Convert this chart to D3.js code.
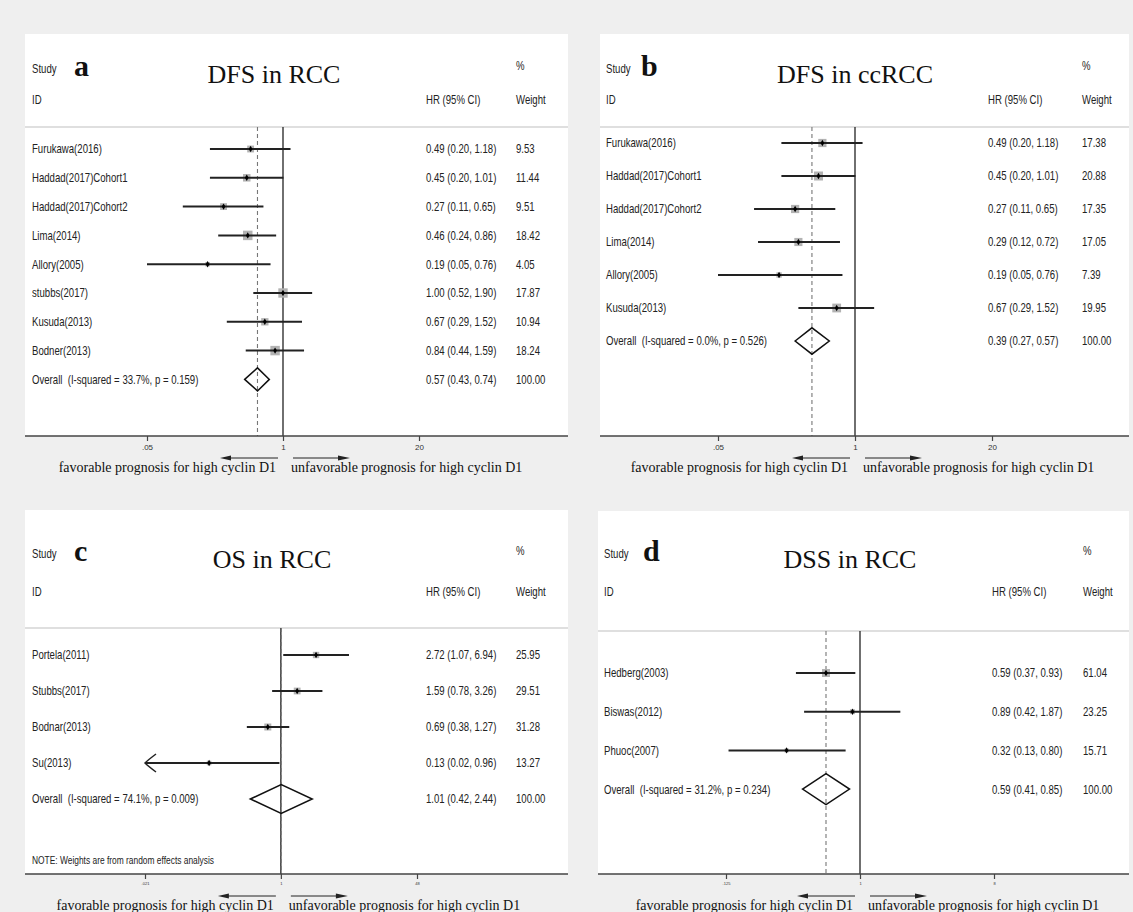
<!DOCTYPE html>
<html>
<head>
<meta charset="utf-8">
<script src="https://cdn.jsdelivr.net/npm/d3@7"></script>
<style>
  body { margin: 0; background: #efefef; }
  .narrow { font-family: "Liberation Sans", Arial, sans-serif; fill: #222; }
  .serif { font-family: "Liberation Serif", "Times New Roman", serif; fill: #111; }
</style>
</head>
<body>
<svg id="fig" width="1133" height="912"></svg>
<script>
// ---- panel a : DFS in RCC
const studiesA = ['Furukawa(2016)', 'Haddad(2017)Cohort1', 'Haddad(2017)Cohort2', 'Lima(2014)',
  'Allory(2005)', 'stubbs(2017)', 'Kusuda(2013)', 'Bodner(2013)'];
const hrA = [0.49, 0.45, 0.27, 0.46, 0.19, 1.00, 0.67, 0.84];
const lowA = [0.20, 0.20, 0.11, 0.24, 0.05, 0.52, 0.29, 0.44];
const highA = [1.18, 1.01, 0.65, 0.86, 0.76, 1.90, 1.52, 1.59];
const weightA = [9.53, 11.44, 9.51, 18.42, 4.05, 17.87, 10.94, 18.24];
const overallA = [0.57, 0.43, 0.74];
const hetA = 'I-squared = 33.7%, p = 0.159';
const ticksA = [0.05, 1, 20];
const tickLabelsA = ['.05', '1', '20'];

// ---- panel b : DFS in ccRCC
const studiesB = ['Furukawa(2016)', 'Haddad(2017)Cohort1', 'Haddad(2017)Cohort2', 'Lima(2014)',
  'Allory(2005)', 'Kusuda(2013)'];
const hrB = [0.49, 0.45, 0.27, 0.29, 0.19, 0.67];
const lowB = [0.20, 0.20, 0.11, 0.12, 0.05, 0.29];
const highB = [1.18, 1.01, 0.65, 0.72, 0.76, 1.52];
const weightB = [17.38, 20.88, 17.35, 17.05, 7.39, 19.95];
const overallB = [0.39, 0.27, 0.57];
const hetB = 'I-squared = 0.0%, p = 0.526';
const ticksB = [0.05, 1, 20];
const tickLabelsB = ['.05', '1', '20'];

// ---- panel c : OS in RCC
const studiesC = ['Portela(2011)', 'Stubbs(2017)', 'Bodnar(2013)', 'Su(2013)'];
const hrC = [2.72, 1.59, 0.69, 0.13];
const lowC = [1.07, 0.78, 0.38, 0.02];
const highC = [6.94, 3.26, 1.27, 0.96];
const weightC = [25.95, 29.51, 31.28, 13.27];
const overallC = [1.01, 0.42, 2.44];
const hetC = 'I-squared = 74.1%, p = 0.009';
const ticksC = [0.021, 1, 48];
const tickLabelsC = ['.021', '1', '48'];
const noteC = 'NOTE: Weights are from random effects analysis';

// ---- panel d : DSS in RCC
const studiesD = ['Hedberg(2003)', 'Biswas(2012)', 'Phuoc(2007)'];
const hrD = [0.59, 0.89, 0.32];
const lowD = [0.37, 0.42, 0.13];
const highD = [0.93, 1.87, 0.80];
const weightD = [61.04, 23.25, 15.71];
const overallD = [0.59, 0.41, 0.85];
const hetD = 'I-squared = 31.2%, p = 0.234';
const ticksD = [0.125, 1, 8];
const tickLabelsD = ['.125', '1', '8'];

const leftCaption = 'favorable prognosis for high cyclin D1';
const rightCaption = 'unfavorable prognosis for high cyclin D1';

const panels = [
  {letter: 'a', title: 'DFS in RCC', studies: studiesA, hr: hrA, low: lowA, high: highA, weight: weightA,
   overall: overallA, het: hetA, ticks: ticksA, tickLabels: tickLabelsA,
   L: {x0: 25, x1: 568, y0: 34, y1: 436, studyX: 32, letterX: 74, titleX: 274, head1: 69, head2: 100,
       sepY: 127, row0: 149, step: 28.8, hrX: 426, wX: 516, tickX: [147, 419], maxBox: 9.5, tickFont: 8}},
  {letter: 'b', title: 'DFS in ccRCC', studies: studiesB, hr: hrB, low: lowB, high: highB, weight: weightB,
   overall: overallB, het: hetB, ticks: ticksB, tickLabels: tickLabelsB,
   L: {x0: 600, x1: 1129, y0: 34, y1: 436, studyX: 606, letterX: 641, titleX: 855, head1: 69, head2: 100,
       sepY: 127, row0: 143, step: 33, hrX: 988, wX: 1082, tickX: [718, 992], maxBox: 9, tickFont: 8}},
  {letter: 'c', title: 'OS in RCC', studies: studiesC, hr: hrC, low: lowC, high: highC, weight: weightC,
   overall: overallC, het: hetC, ticks: ticksC, tickLabels: tickLabelsC, note: noteC,
   L: {x0: 25, x1: 568, y0: 510, y1: 874, studyX: 32, letterX: 74, titleX: 272, head1: 554, head2: 592,
       sepY: 628, row0: 655, step: 36, hrX: 426, wX: 516, tickX: [145, 417], maxBox: 7, tickFont: 4, noteY: 860}},
  {letter: 'd', title: 'DSS in RCC', studies: studiesD, hr: hrD, low: lowD, high: highD, weight: weightD,
   overall: overallD, het: hetD, ticks: ticksD, tickLabels: tickLabelsD,
   L: {x0: 598, x1: 1129, y0: 511, y1: 874, studyX: 604, letterX: 643, titleX: 850, head1: 554, head2: 592,
       sepY: 631, row0: 673, step: 38.7, hrX: 992, wX: 1083, tickX: [726, 994], maxBox: 8, tickFont: 4}}
];

const svg = d3.select('#fig');
const fmt = d3.format('.2f');

// Stata text is condensed Arial, squeeze it horizontally
function label(g, x, y, str, size, anchor) {
  g.append('text')
    .attr('class', 'narrow')
    .attr('transform', `translate(${x},${y}) scale(0.8,1)`)
    .attr('font-size', size)
    .attr('dominant-baseline', 'central')
    .attr('text-anchor', anchor || 'start')
    .style('white-space', 'pre')
    .text(str);
}

function drawPanel(p) {
  const L = p.L;
  const g = svg.append('g');

  g.append('rect')
    .attr('x', L.x0).attr('y', L.y0)
    .attr('width', L.x1 - L.x0).attr('height', L.y1 - L.y0)
    .attr('fill', '#fff');

  const x = d3.scaleLog()
    .domain([p.ticks[0], p.ticks[p.ticks.length - 1]])
    .range(L.tickX);
  const [xmin, xmax] = x.domain();
  const rowY = i => L.row0 + i * L.step;

  // header
  label(g, L.studyX, L.head1, 'Study', 12);
  label(g, L.studyX, L.head2, 'ID', 12);
  label(g, L.wX, L.head1 - 3, '%', 12);
  label(g, L.hrX, L.head2, 'HR (95% CI)', 12);
  label(g, L.wX, L.head2, 'Weight', 12);

  g.append('text').attr('class', 'serif')
    .attr('x', L.letterX).attr('y', L.head1 + 7)
    .attr('font-size', 30).attr('font-weight', 'bold')
    .text(p.letter);
  g.append('text').attr('class', 'serif')
    .attr('x', L.titleX).attr('y', L.head1 + 14)
    .attr('font-size', 26).attr('text-anchor', 'middle')
    .text(p.title);

  g.append('line')
    .attr('x1', L.x0).attr('x2', L.x1)
    .attr('y1', L.sepY).attr('y2', L.sepY)
    .attr('stroke', '#d4d4d4').attr('stroke-width', 1.5);

  // reference lines
  g.append('line')
    .attr('x1', x(1)).attr('x2', x(1))
    .attr('y1', L.sepY).attr('y2', L.y1)
    .attr('stroke', '#222').attr('stroke-width', 1.3);
  g.append('line')
    .attr('x1', x(p.overall[0])).attr('x2', x(p.overall[0]))
    .attr('y1', L.sepY).attr('y2', L.y1)
    .attr('stroke', '#777').attr('stroke-width', 1.1)
    .attr('stroke-dasharray', '4,3');

  const rows = p.studies.map((s, i) => ({
    name: s, hr: p.hr[i], low: p.low[i], high: p.high[i], w: p.weight[i], y: rowY(i)
  }));
  const maxW = d3.max(rows, d => d.w);

  // weight boxes
  g.selectAll('rect.box').data(rows).enter().append('rect')
    .attr('class', 'box')
    .attr('x', d => x(d.hr) - L.maxBox * Math.sqrt(d.w / maxW) / 2)
    .attr('y', d => d.y - L.maxBox * Math.sqrt(d.w / maxW) / 2)
    .attr('width', d => L.maxBox * Math.sqrt(d.w / maxW))
    .attr('height', d => L.maxBox * Math.sqrt(d.w / maxW))
    .attr('fill', '#b3b3b3');

  // CI lines, clipped to the axis range
  g.selectAll('line.ci').data(rows).enter().append('line')
    .attr('class', 'ci')
    .attr('x1', d => x(Math.max(d.low, xmin)))
    .attr('x2', d => x(Math.min(d.high, xmax)))
    .attr('y1', d => d.y).attr('y2', d => d.y)
    .attr('stroke', '#222').attr('stroke-width', 2);

  g.selectAll('path.clip').data(rows.filter(d => d.low < xmin)).enter().append('path')
    .attr('class', 'clip')
    .attr('d', d => `M${x(xmin) + 11},${d.y - 9} Q${x(xmin) + 3},${d.y - 3} ${x(xmin)},${d.y} Q${x(xmin) + 3},${d.y + 3} ${x(xmin) + 11},${d.y + 9}`)
    .attr('fill', 'none').attr('stroke', '#222').attr('stroke-width', 1.5);

  g.selectAll('path.pt').data(rows).enter().append('path')
    .attr('class', 'pt')
    .attr('transform', d => `translate(${x(d.hr)},${d.y})`)
    .attr('d', d3.symbol(d3.symbolDiamond, 12))
    .attr('fill', '#000');

  // study labels and numbers
  rows.forEach(d => {
    label(g, L.studyX, d.y, d.name, 12);
    label(g, L.hrX, d.y, `${fmt(d.hr)} (${fmt(d.low)}, ${fmt(d.high)})`, 12);
    label(g, L.wX, d.y, fmt(d.w), 12);
  });

  // overall diamond
  const oy = rowY(rows.length);
  const dh = L.step * 0.4;
  const [ohr, olo, ohi] = p.overall;
  g.append('path')
    .attr('d', `M${x(olo)},${oy} L${x(ohr)},${oy - dh} L${x(ohi)},${oy} L${x(ohr)},${oy + dh} Z`)
    .attr('fill', 'none').attr('stroke', '#111').attr('stroke-width', 1.5);
  label(g, L.studyX, oy, `Overall  (${p.het})`, 12);
  label(g, L.hrX, oy, `${fmt(ohr)} (${fmt(olo)}, ${fmt(ohi)})`, 12);
  label(g, L.wX, oy, fmt(100), 12);

  if (p.note) label(g, L.studyX, L.noteY, p.note, 10.5);

  // axis
  g.append('line')
    .attr('x1', L.x0).attr('x2', L.x1)
    .attr('y1', L.y1).attr('y2', L.y1)
    .attr('stroke', '#444').attr('stroke-width', 1.5);
  const axis = d3.axisBottom(x)
    .tickValues(p.ticks)
    .tickFormat((d, i) => p.tickLabels[i])
    .tickSize(5)
    .tickPadding(3);
  const ag = g.append('g')
    .attr('transform', `translate(0,${L.y1})`)
    .call(axis);
  ag.select('.domain').remove();
  ag.selectAll('line').attr('stroke', '#444').attr('stroke-width', 1.2);
  ag.selectAll('text')
    .attr('font-family', '"Liberation Sans", Arial, sans-serif')
    .attr('font-size', L.tickFont)
    .attr('fill', '#333');

  // direction arrows and captions
  const ay = L.y1 + 22;
  const nx = x(1);
  g.append('line').attr('x1', nx - 5).attr('x2', nx - 53).attr('y1', ay).attr('y2', ay)
    .attr('stroke', '#222').attr('stroke-width', 1);
  g.append('path').attr('d', `M${nx - 63},${ay} L${nx - 52},${ay - 2.5} L${nx - 52},${ay + 2.5} Z`).attr('fill', '#222');
  g.append('line').attr('x1', nx + 10).attr('x2', nx + 56).attr('y1', ay).attr('y2', ay)
    .attr('stroke', '#222').attr('stroke-width', 1);
  g.append('path').attr('d', `M${nx + 67},${ay} L${nx + 55},${ay - 2.5} L${nx + 55},${ay + 2.5} Z`).attr('fill', '#222');

  g.append('text').attr('class', 'serif')
    .attr('x', nx - 7).attr('y', L.y1 + 36)
    .attr('font-size', 14).attr('text-anchor', 'end')
    .text(leftCaption);
  g.append('text').attr('class', 'serif')
    .attr('x', nx + 8).attr('y', L.y1 + 36)
    .attr('font-size', 14)
    .text(rightCaption);
}

panels.forEach(drawPanel);
</script>
</body>
</html>
